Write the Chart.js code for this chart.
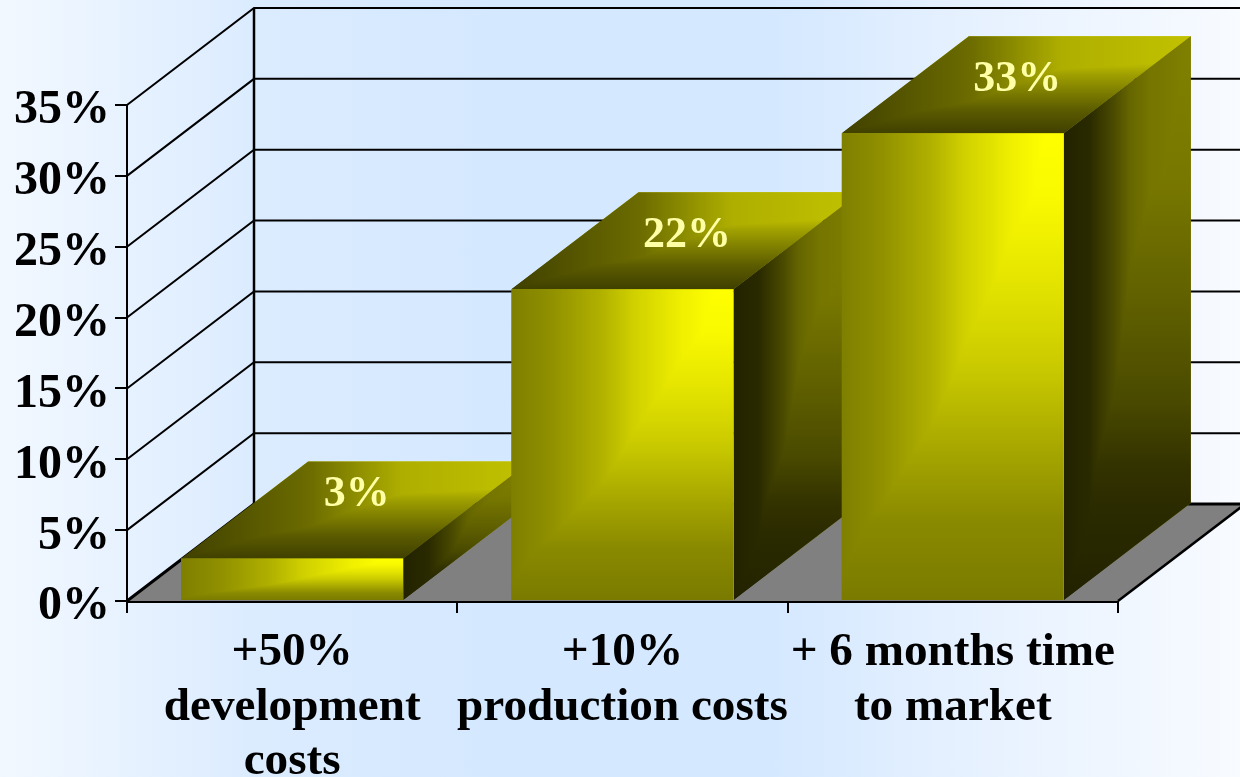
<!DOCTYPE html>
<html>
<head>
    <meta charset="utf-8">
    <title>Cost of overruns</title>
    <style>
        html, body {
            margin: 0;
            height: 100%;
            overflow: hidden;
        }
        body {
            background: linear-gradient(to right, #f2f8ff 0%, #dcecff 20%, #d4e8ff 40%, #d4e8ff 62%, #e6f1ff 78%, #f8fbff 100%);
        }
        canvas {
            display: block;
        }
    </style>
    <script src="https://cdn.jsdelivr.net/npm/chart.js@4.4.1/dist/chart.umd.min.js"></script>
</head>
<body>
    <canvas id="costChart" width="1240" height="777"></canvas>
    <script>
        const categories = [
            ['+50%', 'development', 'costs'],
            ['+10%', 'production costs'],
            ['+ 6 months time', 'to market']
        ];
        const values = [3, 22, 33];
        const axisMax = 35;
        const axisStep = 5;

        // oblique depth of the fake 3D box
        const depthX = 127;
        const depthY = 97;

        // face shading: one ramp across, one ramp down, the darker of the two wins
        const frontAcross = [[0, '#7f7f00'], [0.17, '#8f8f00'], [0.4, '#b0b000'], [0.55, '#d0d000'], [0.77, '#f0f000'], [0.92, '#ffff00'], [1, '#ffff00']];
        const frontDown = [[0, '#ffff00'], [0.15, '#f8f800'], [0.35, '#e0e000'], [0.51, '#c8c800'], [0.67, '#a8a800'], [0.83, '#8a8a00'], [1, '#7a7a00']];
        const topAcross = [[0, '#404000'], [0.37, '#6c6c00'], [0.63, '#aeae00'], [1, '#c2c200']];
        const topDown = [[0, '#c4c400'], [0.25, '#c4c400'], [0.39, '#a0a000'], [0.56, '#808000'], [0.77, '#5a5a00'], [1, '#404000']];
        const sideAcross = [[0, '#222200'], [0.2, '#2a2a00'], [0.39, '#4a4a00'], [0.52, '#666600'], [0.68, '#757500'], [1, '#808000']];
        const sideDown = [[0, '#808000'], [0.25, '#787800'], [0.47, '#606000'], [0.645, '#4a4a00'], [0.76, '#333300'], [0.82, '#2c2c00'], [1, '#222200']];

        function poly(ctx, pts) {
            ctx.beginPath();
            pts.forEach((p, i) => i ? ctx.lineTo(p[0], p[1]) : ctx.moveTo(p[0], p[1]));
            ctx.closePath();
        }

        function ramp(ctx, x0, y0, x1, y1, stops) {
            const g = ctx.createLinearGradient(x0, y0, x1, y1);
            stops.forEach(s => g.addColorStop(s[0], s[1]));
            return g;
        }

        function fillFace(ctx, pts, across, down) {
            poly(ctx, pts);
            ctx.fillStyle = across;
            ctx.fill();
            ctx.globalCompositeOperation = 'darken';
            ctx.fillStyle = down;
            ctx.fill();
            ctx.globalCompositeOperation = 'source-over';
        }

        const box3d = {
            id: 'box3d',
            beforeDatasetsDraw(chart) {
                const ctx = chart.ctx;
                const ys = chart.scales.y;
                const area = chart.chartArea;
                const base = ys.getPixelForValue(0);
                ctx.save();

                // floor
                poly(ctx, [[area.left, base], [area.left + depthX, base - depthY],
                           [area.right + depthX, base - depthY], [area.right, base]]);
                ctx.fillStyle = '#808080';
                ctx.fill();

                // walls
                ctx.strokeStyle = '#000';
                for (let v = 0; v <= axisMax; v += axisStep) {
                    const y = ys.getPixelForValue(v);
                    ctx.beginPath();
                    ctx.moveTo(area.left, y);
                    ctx.lineTo(area.left + depthX, y - depthY);
                    ctx.lineTo(chart.width, y - depthY);
                    ctx.lineWidth = v === 0 ? 3 : 2;
                    ctx.stroke();
                }
                ctx.lineWidth = 2.5;
                ctx.beginPath();
                ctx.moveTo(area.left + depthX, base - depthY);
                ctx.lineTo(area.left + depthX, ys.getPixelForValue(axisMax) - depthY);
                ctx.stroke();
                ctx.beginPath();
                ctx.moveTo(area.right, base);
                ctx.lineTo(area.right + depthX, base - depthY);
                ctx.stroke();

                // top and side of each bar, left to right
                chart.getDatasetMeta(0).data.forEach(bar => {
                    const l = bar.x - bar.width / 2;
                    const r = bar.x + bar.width / 2;
                    const t = bar.y;
                    const b = bar.base;
                    fillFace(ctx, [[l, t], [l + depthX, t - depthY], [r + depthX, t - depthY], [r, t]],
                        ramp(ctx, l, 0, r + depthX, 0, topAcross),
                        ramp(ctx, 0, t - depthY, 0, t, topDown));
                    fillFace(ctx, [[r, t], [r + depthX, t - depthY], [r + depthX, b - depthY], [r, b]],
                        ramp(ctx, r, 0, r + depthX, 0, sideAcross),
                        ramp(ctx, 0, t - depthY, 0, b, sideDown));
                });
                ctx.restore();
            },
            afterDatasetsDraw(chart) {
                const ctx = chart.ctx;
                ctx.save();
                chart.getDatasetMeta(0).data.forEach((bar, i) => {
                    const l = bar.x - bar.width / 2;
                    const r = bar.x + bar.width / 2;
                    fillFace(ctx, [[l, bar.y], [r, bar.y], [r, bar.base], [l, bar.base]],
                        ramp(ctx, l, 0, r, 0, frontAcross),
                        ramp(ctx, 0, bar.y, 0, bar.base, frontDown));

                    ctx.fillStyle = '#ffffa6';
                    ctx.font = 'bold 44px "Liberation Serif"';
                    ctx.textAlign = 'center';
                    ctx.textBaseline = 'middle';
                    const lift = values[i] < 5 ? 15 : 5;
                    ctx.fillText(values[i] + '%', bar.x + depthX / 2 + 1, bar.y - depthY / 2 - lift);
                });
                ctx.restore();
            }
        };

        const ctx = document.getElementById('costChart').getContext('2d');
        new Chart(ctx, {
            type: 'bar',
            plugins: [box3d],
            data: {
                labels: categories,
                datasets: [{
                    data: values,
                    barPercentage: 0.672,
                    categoryPercentage: 1,
                    backgroundColor: '#7f7f00'
                }]
            },
            options: {
                responsive: false,
                animation: false,
                layout: {
                    padding: { top: 105, right: 122, left: 0, bottom: 0 }
                },
                plugins: {
                    legend: { display: false },
                    tooltip: { enabled: false }
                },
                scales: {
                    x: {
                        z: 1,
                        afterFit(s) { s.height = 176; },
                        grid: {
                            drawOnChartArea: false,
                            color: '#000',
                            lineWidth: 2,
                            tickLength: 12
                        },
                        border: { color: '#000', width: 3 },
                        ticks: {
                            color: '#000',
                            autoSkip: false,
                            maxRotation: 0,
                            padding: 13,
                            font: { family: '"Liberation Serif"', weight: 'bold', size: 47.2, lineHeight: 1.155 }
                        }
                    },
                    y: {
                        z: 1,
                        min: 0,
                        max: axisMax,
                        afterFit(s) { s.width = 127; },
                        grid: {
                            drawOnChartArea: false,
                            color: '#000',
                            lineWidth: 2,
                            tickLength: 12
                        },
                        border: { color: '#000', width: 2 },
                        ticks: {
                            color: '#000',
                            stepSize: axisStep,
                            padding: 5,
                            labelOffset: 6,
                            font: { family: '"Liberation Serif"', weight: 'bold', size: 48 },
                            callback: v => v + '%'
                        }
                    }
                }
            }
        });
    </script>
</body>
</html>
